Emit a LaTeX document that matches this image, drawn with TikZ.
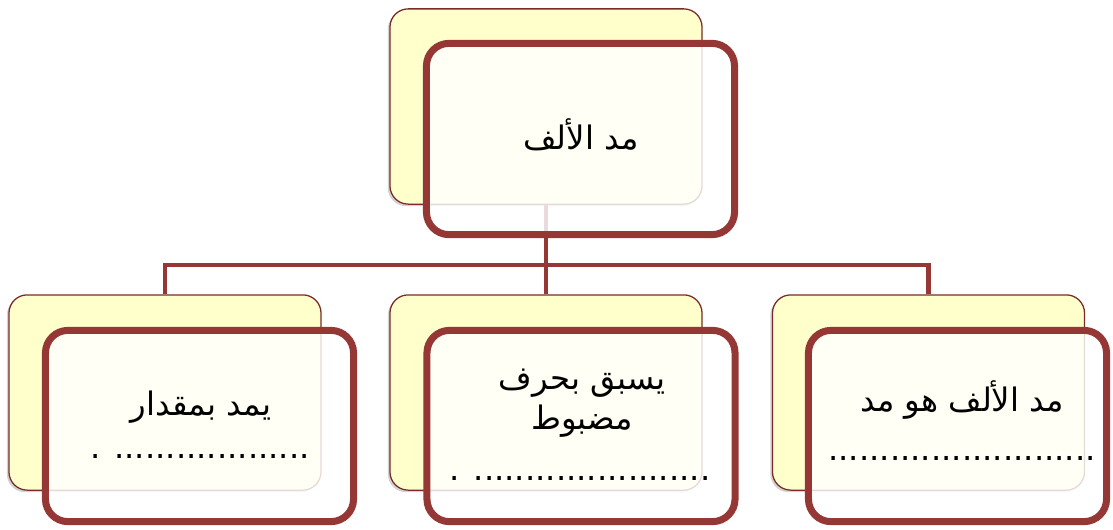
\documentclass[tikz,border=0pt]{standalone}
\usepackage{fontspec}
\usepackage{tikz}
\usetikzlibrary{shadows, backgrounds}
\newfontfamily\arabicfont[Script=Arabic]{DejaVu Sans}
\TeXXeTstate=1
\definecolor{boxred}{HTML}{953735}
\definecolor{boxedge}{HTML}{7A2A28}
\definecolor{paleyellow}{HTML}{FFFFCC}

\begin{document}
\begin{tikzpicture}[
    x=0.025cm, y=-0.025cm,
    backbox/.style={rectangle, rounded corners=13pt, draw=boxedge, line width=0.9pt, fill=paleyellow, minimum width=7.8cm, minimum height=4.88cm, drop shadow={shadow xshift=-1.5pt, shadow yshift=-1.5pt, opacity=0.35}},
    frontbox/.style={rectangle, rounded corners=16pt, draw=boxred, line width=5pt, fill=white, fill opacity=0.82, draw opacity=1, minimum width=#1, minimum height=4.78cm},
    frontbox/.default=7.7cm,
    connector/.style={draw=boxred, line width=3.2pt},
    boxtext/.style={font=\arabicfont\fontsize{23}{28}\selectfont, align=center, inner sep=0pt},
    dotline/.style={font=\arabicfont\fontsize{23}{28}\selectfont, inner sep=0pt}
]
\useasboundingbox (0,0) rectangle (1113,529);

% Back boxes
\node[backbox] (topback) at (546,106.5) {};
\node[backbox] (leftback) at (165,392.5) {};
\node[backbox] (midback) at (546,392.5) {};
\node[backbox] (rightback) at (928.5,392.5) {};

% Connectors
\coordinate (hub) at (546,265);
\begin{scope}[on background layer]
\draw[connector] (topback.south) -- (hub);
\draw[connector] (leftback.north) |- (hub) -| (rightback.north);
\draw[connector] (hub) -- (midback.north);
\end{scope}

% Front boxes
\node[frontbox] (topfront) at (580.5,139) {};
\node[frontbox] (leftfront) at (199.5,426) {};
\node[frontbox] (midfront) at (581,426) {};
\node[frontbox=7.45cm] (rightfront) at (957.5,426) {};

% Texts
\node[boxtext] (toptext) at (581,135) {\beginR مد الألف\endR};
\node[boxtext] (lefttext) at (201,407) {\beginR يمد بمقدار\endR};
\node[dotline] (leftdots) at (200,456) {\beginL. ...................\endL};
\node[boxtext] (midtext) at (582,403) {\beginR يسبق بحرف\endR\\\beginR مضبوط\endR};
\node[dotline] (middots) at (580,478) {\beginL. .......................\endL};
\node[boxtext] (righttext) at (962,400) {\beginR مد الألف هو مد\endR};
\node[dotline] (rightdots) at (962,458) {\beginL..........................\endL};

\end{tikzpicture}
\end{document}
